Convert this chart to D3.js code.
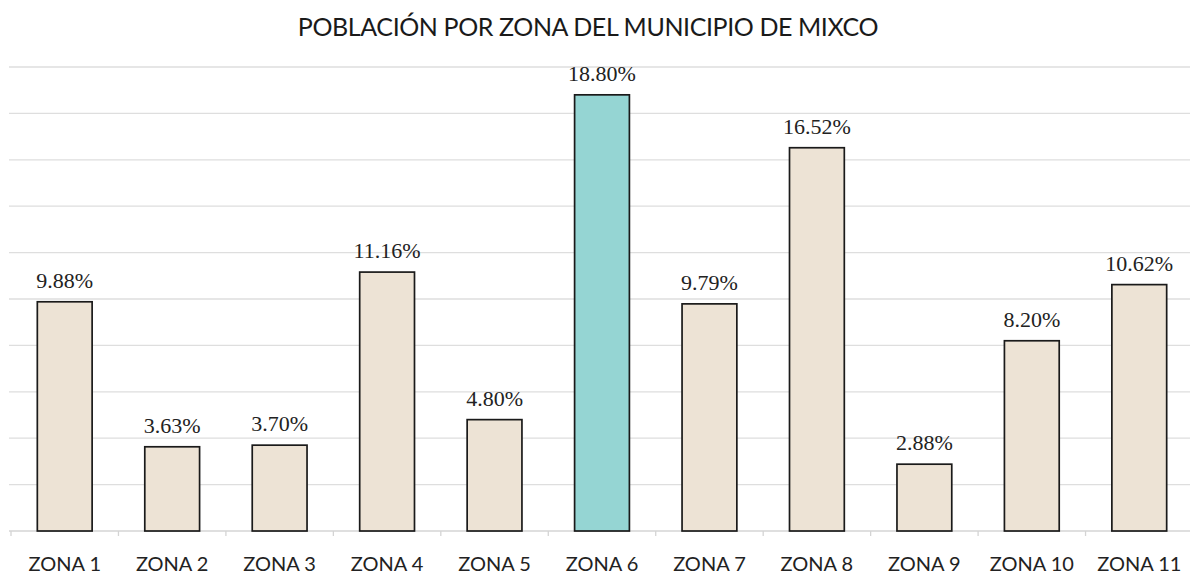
<!DOCTYPE html>
<html>
<head>
<meta charset="utf-8">
<script src="https://cdn.jsdelivr.net/npm/d3@7"></script>
<style>
  body { margin: 0; background: #fff; }
</style>
</head>
<body>
<div id="chart"></div>
<script>
var zones = ["ZONA 1", "ZONA 2", "ZONA 3", "ZONA 4", "ZONA 5", "ZONA 6", "ZONA 7", "ZONA 8", "ZONA 9", "ZONA 10", "ZONA 11"];
var values = [9.88, 3.63, 3.70, 11.16, 4.80, 18.80, 9.79, 16.52, 2.88, 8.20, 10.62];
var yTicks = [0, 2, 4, 6, 8, 10, 12, 14, 16, 18, 20];
var highlight = "ZONA 6";

var W = 1193, H = 576;
var margin = ({top: 67, right: 0, bottom: 45, left: 11});

var svg = d3.select("#chart")
    .append("svg")
    .attr("width", W)
    .attr("height", H);

// outer bands (category slots) and inner bars
var xb = d3.scaleBand()
    .domain(zones)
    .range([margin.left, W - margin.right]);

var x = d3.scaleBand()
    .domain(zones)
    .range([margin.left, W - margin.right])
    .paddingInner(0.49)
    .paddingOuter(0.245);

var y = d3.scaleLinear()
    .domain([0, 20])
    .range([H - margin.bottom, margin.top]);

// gridlines
svg.selectAll("line.grid")
    .data(yTicks.filter(d => d > 0))
    .enter()
    .append("line")
    .attr("class", "grid")
    .attr("x1", 9)
    .attr("x2", 1190)
    .attr("y1", d => y(d))
    .attr("y2", d => y(d))
    .attr("stroke", "#dedede")
    .attr("stroke-width", 1.3);

// x axis with category boundary ticks
var base = y(0);
svg.append("line")
    .attr("x1", 9).attr("x2", 1190)
    .attr("y1", base).attr("y2", base)
    .attr("stroke", "#d4d4d4")
    .attr("stroke-width", 1.3);

var bounds = zones.map(d => xb(d));
svg.selectAll("line.tick")
    .data(bounds)
    .enter()
    .append("line")
    .attr("class", "tick")
    .attr("x1", d => d).attr("x2", d => d)
    .attr("y1", base).attr("y2", base + 5)
    .attr("stroke", "#d4d4d4")
    .attr("stroke-width", 1.3);

// bars
svg.selectAll("rect.bar")
    .data(values)
    .enter()
    .append("rect")
    .attr("class", "bar")
    .attr("x", (d, i) => x(zones[i]))
    .attr("y", d => y(d))
    .attr("width", x.bandwidth())
    .attr("height", d => base - y(d))
    .attr("fill", (d, i) => zones[i] == highlight ? "#95d5d3" : "#ede3d5")
    .attr("stroke", "#1a1a1a")
    .attr("stroke-width", 1.7);

// value labels
svg.selectAll("text.val")
    .data(values)
    .enter()
    .append("text")
    .attr("class", "val")
    .attr("x", (d, i) => x(zones[i]) + x.bandwidth() / 2)
    .attr("y", d => y(d) - 14)
    .attr("text-anchor", "middle")
    .attr("font-family", "'Liberation Serif', 'DejaVu Serif', serif")
    .attr("font-size", 22)
    .attr("fill", "#222")
    .text(d => d.toFixed(2) + "%");

// category labels
svg.selectAll("text.cat")
    .data(zones)
    .enter()
    .append("text")
    .attr("class", "cat")
    .attr("x", d => xb(d) + xb.bandwidth() / 2)
    .attr("y", 571)
    .attr("text-anchor", "middle")
    .attr("font-family", "Lato, 'Open Sans', sans-serif")
    .attr("font-size", 20)
    .attr("fill", "#222")
    .text(d => d);

// title
svg.append("text")
    .attr("x", 588)
    .attr("y", 36)
    .attr("text-anchor", "middle")
    .attr("font-family", "Lato, 'Open Sans', sans-serif")
    .attr("font-size", 25)
    .attr("letter-spacing", -0.4)
    .attr("fill", "#1a1a1a")
    .text("POBLACIÓN POR ZONA DEL MUNICIPIO DE MIXCO");
</script>
</body>
</html>
